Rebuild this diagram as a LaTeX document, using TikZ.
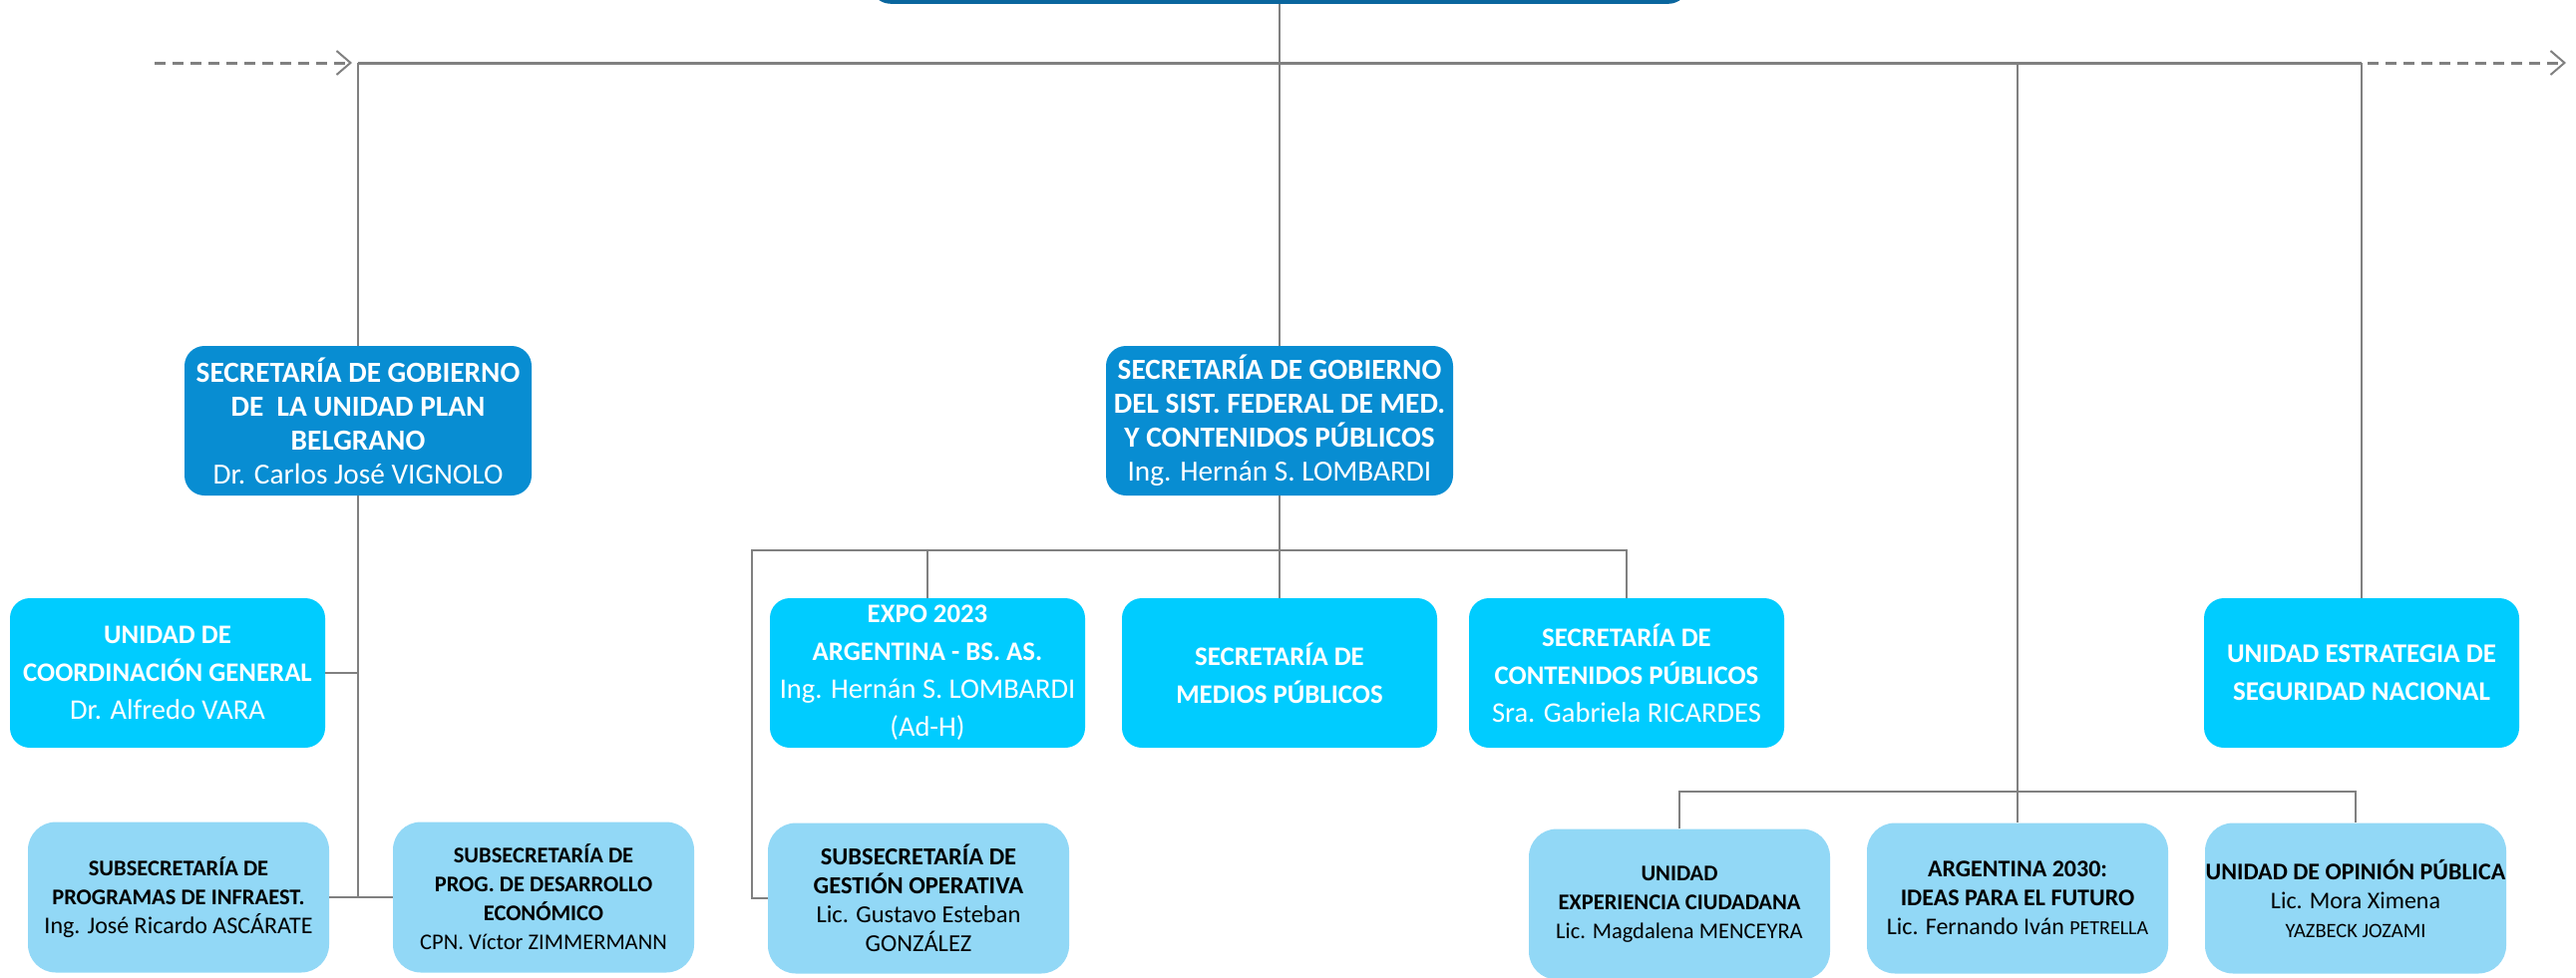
\documentclass[tikz,border=0pt]{standalone}
\usepackage{fontspec}
\setmainfont{Carlito}
\usetikzlibrary{arrows.meta,positioning}
\definecolor{topblue}{RGB}{10,102,158}
\definecolor{govblue}{RGB}{8,141,210}
\definecolor{unitcyan}{RGB}{0,204,255}
\definecolor{subblue}{RGB}{146,216,246}
\definecolor{linegray}{RGB}{128,128,128}
\newcommand{\unitname}[1]{{\fontsize{28.5}{38}\selectfont #1}}
\tikzset{
	gov/.style={rounded corners=20pt,fill=govblue,text=white,minimum width=348pt,minimum height=150pt,align=center,inner sep=0pt,font=\fontsize{29.3}{34}\selectfont},
	unit/.style={rounded corners=20pt,fill=unitcyan,text=white,minimum width=316pt,minimum height=150pt,align=center,inner sep=0pt,font=\fontsize{26.8}{38}\selectfont},
	sub/.style={rounded corners=28pt,fill=subblue,text=black,minimum width=302pt,minimum height=151pt,align=center,inner sep=0pt,font=\fontsize{22.5}{29}\selectfont},
	link/.style={draw=linegray,line width=2pt},
	bar/.style={draw=linegray,line width=3pt},
	dasharrow/.style={draw=linegray,line width=3pt,dash pattern=on 11pt off 7pt,-{Straight Barb[length=14pt,width=24pt,line width=2pt]}}
}
\begin{document}
\begin{tikzpicture}[x=1pt,y=-1pt]
			\useasboundingbox (0,0) rectangle (2583,980);
			\clip (0,0) rectangle (2583,980);
			\node[fill=topblue,rounded corners=20pt,minimum width=820pt,minimum height=80pt,anchor=south] (top) at (1283,4) {};

			\node[gov] (sg1) at (359,422) {\textbf{SECRETARÍA DE GOBIERNO}\\\textbf{DE \ LA UNIDAD PLAN}\\\textbf{BELGRANO}\\Dr. Carlos José VIGNOLO};
			\node[gov] (sg2) at (1283,422) {\textbf{SECRETARÍA DE GOBIERNO}\\\textbf{DEL SIST. FEDERAL DE MED.}\\\textbf{Y CONTENIDOS PÚBLICOS}\\Ing. Hernán S. LOMBARDI};

			\node[unit] (ucg) at (168,675) {\textbf{UNIDAD DE}\\\textbf{COORDINACIÓN GENERAL}\\\unitname{Dr. Alfredo VARA}};
			\node[unit] (expo) at (930,675) {\textbf{EXPO 2023}\\\textbf{ARGENTINA - BS. AS.}\\\unitname{Ing. Hernán S. LOMBARDI}\\\unitname{(Ad-H)}};
			\node[unit] (med) at (1283,675) {\textbf{SECRETARÍA DE}\\\textbf{MEDIOS PÚBLICOS}};
			\node[unit] (cont) at (1631,675) {\textbf{SECRETARÍA DE}\\\textbf{CONTENIDOS PÚBLICOS}\\\unitname{Sra. Gabriela RICARDES}};
			\node[unit,font=\fontsize{27}{38}\selectfont] (seg) at (2368,675) {\textbf{UNIDAD ESTRATEGIA DE}\\\textbf{SEGURIDAD NACIONAL}};

			\node[sub] (inf) at (179,900) {\textbf{SUBSECRETARÍA DE}\\\textbf{PROGRAMAS DE INFRAEST.}\\{\fontsize{24}{29}\selectfont Ing. José Ricardo ASCÁRATE}};
			\node[sub] (prog) at (545,900) {\textbf{SUBSECRETARÍA DE}\\\textbf{PROG. DE DESARROLLO}\\\textbf{ECONÓMICO}\\CPN. Víctor ZIMMERMANN};
			\node[sub,font=\fontsize{24.5}{29}\selectfont] (gest) at (921,901) {\textbf{SUBSECRETARÍA DE}\\\textbf{GESTIÓN OPERATIVA}\\Lic. Gustavo Esteban\\GONZÁLEZ};
			\node[sub] (exp) at (1684,907) {\textbf{UNIDAD}\\\textbf{EXPERIENCIA CIUDADANA}\\Lic. Magdalena MENCEYRA};
			\node[sub,font=\fontsize{24}{29}\selectfont] (arg) at (2023,901) {\textbf{ARGENTINA 2030:}\\\textbf{IDEAS PARA EL FUTURO}\\Lic. Fernando Iván {\fontsize{20}{29}\selectfont PETRELLA}};
			\node[sub,font=\fontsize{24}{29}\selectfont] (opi) at (2362,901) {\textbf{UNIDAD DE OPINIÓN PÚBLICA}\\Lic. Mora Ximena\\{\fontsize{20.5}{29}\selectfont YAZBECK JOZAMI}};

			\coordinate (bl) at (359,63);
			\coordinate (br) at (2368,63);
			\coordinate (jR) at (2023,63);
			\coordinate (inA) at (155,63);
			\coordinate (inB) at (353,63);
			\coordinate (outA) at (2374,63);
			\coordinate (outB) at (2573,63);
			\coordinate (jL) at (359,900);
			\coordinate (jG) at (754,552);
			\coordinate (jB) at (2023,794);

			\draw[dasharrow] (inA) -- (inB);
			\draw[dasharrow] (outA) -- (outB);
			\draw[bar] (bl) -- (br);
			\draw[link] (top) -- (sg2);
			\draw[link] (bl) -- (sg1.north);
			\draw[link] (br) -- (seg.north);
			\draw[link] (jR) -- (arg.north);
			\draw[link] (exp.north) |- (jB) -| (opi.north);

			\draw[link] (sg1.south) -- (jL);
			\draw[link] (ucg.east) -- (ucg.east -| jL);
			\draw[link] (inf.east) -- (prog.west);

			\draw[link] (sg2.south) -- (med.north);
			\draw[link] (gest.west) -| (jG) -| (cont.north);
			\draw[link] (expo.north) -- (expo.north |- jG);
\end{tikzpicture}
\end{document}
